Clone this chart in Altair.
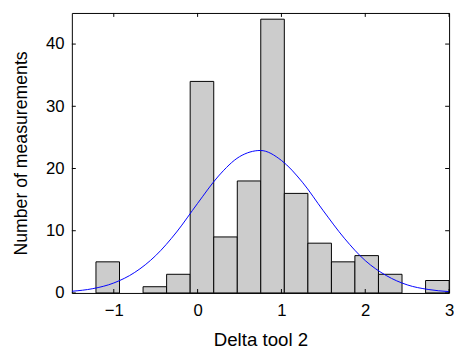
import altair as alt
import pandas as pd

# Histogram (15 bins)
bin_centers = [-1.072, -0.791, -0.510, -0.229, 0.052, 0.333, 0.614, 0.894,
               1.175, 1.456, 1.737, 2.017, 2.298, 2.579, 2.860]
counts = [5, 0, 1, 3, 34, 9, 18, 44, 16, 8, 5, 6, 3, 0, 2]
bin_width = 0.281

# Fitted normal curve
curve_x = [-1.5, -1.25, -1.0, -0.75, -0.5, -0.25, 0.0, 0.25, 0.5, 0.75,
           1.0, 1.25, 1.5, 1.75, 2.0, 2.25, 2.5, 2.75, 3.0]
curve_y = [0.27, 0.69, 1.6, 3.3, 6.0, 9.8, 14.4, 18.8, 21.9, 22.9,
           21.3, 17.8, 13.2, 8.8, 5.2, 2.8, 1.3, 0.56, 0.21]

x_ticks = [-1, 0, 1, 2, 3]
y_ticks = [0, 10, 20, 30, 40]

W, H = 384, 285
FONT = "Liberation Sans"

bars_df = pd.DataFrame({"center": bin_centers, "count": counts})
curve_df = pd.DataFrame({"x": curve_x, "y": curve_y})
xt_df = pd.DataFrame({"v": x_ticks})
yt_df = pd.DataFrame({"v": y_ticks})

xscale = alt.Scale(domain=[-1.5, 3], nice=False, zero=False)
yscale = alt.Scale(domain=[0, 45], nice=False, zero=False)

xaxis = alt.Axis(values=x_ticks, format="d", title="Delta tool 2", grid=False, domain=False,
                 ticks=False, labelFlush=False, labelFontSize=17, labelPadding=10,
                 titleFontSize=19, titleFontWeight="normal", titlePadding=12,
                 labelColor="black", titleColor="black", labelFont=FONT, titleFont=FONT)
yaxis = alt.Axis(values=y_ticks, format="d", title="Number of measurements", grid=False, domain=False,
                 ticks=False, labelFontSize=17, labelPadding=8,
                 titleFontSize=18, titleFontWeight="normal", titlePadding=15,
                 labelColor="black", titleColor="black", labelFont=FONT, titleFont=FONT)

bars = alt.Chart(bars_df).transform_filter(
    alt.datum["count"] > 0
).transform_calculate(
    x0=f"datum.center - {bin_width}/2", x1=f"datum.center + {bin_width}/2"
).mark_rect(fill="#cccccc", stroke="#000000", strokeWidth=1).encode(
    x=alt.X("x0:Q", scale=xscale, axis=xaxis),
    x2="x1:Q",
    y=alt.Y("count:Q", scale=yscale, axis=yaxis),
    y2=alt.datum(0),
)

curve = alt.Chart(curve_df).mark_line(color="#0000ff", strokeWidth=1,
                                      interpolate="monotone", clip=True).encode(
    x=alt.X("x:Q", scale=xscale),
    y=alt.Y("y:Q", scale=yscale),
)

xt_bottom = alt.Chart(xt_df).mark_rule(color="black", strokeWidth=1).encode(
    x=alt.X("v:Q", scale=xscale), y=alt.value(H), y2=alt.value(H - 4))
xt_top = alt.Chart(xt_df).mark_rule(color="black", strokeWidth=1).encode(
    x=alt.X("v:Q", scale=xscale), y=alt.value(0), y2=alt.value(4))
yt_left = alt.Chart(yt_df).mark_rule(color="black", strokeWidth=1).encode(
    y=alt.Y("v:Q", scale=yscale), x=alt.value(0), x2=alt.value(4))
yt_right = alt.Chart(yt_df).mark_rule(color="black", strokeWidth=1).encode(
    y=alt.Y("v:Q", scale=yscale), x=alt.value(W), x2=alt.value(W - 4))

chart = alt.layer(bars, curve, xt_bottom, xt_top, yt_left, yt_right).properties(
    width=W, height=H,
    autosize=alt.AutoSizeParams(type="none"),
    padding={"left": 65, "top": 2, "right": 5, "bottom": 54},
    background="white",
).configure_view(stroke="black", strokeWidth=1)

chart.save("out.html", embed_options={"renderer": "svg", "actions": False})
